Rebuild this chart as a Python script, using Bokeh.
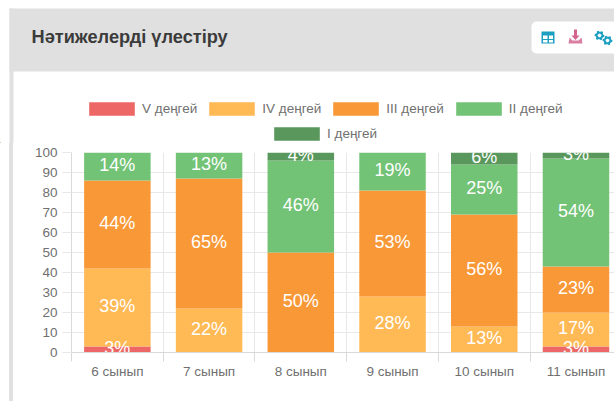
import math
from bokeh.plotting import figure
from bokeh.layouts import column, row
from bokeh.models import (ColumnDataSource, FixedTicker, Legend, LegendItem, BoxAnnotation,
                          PolyAnnotation, Label, Div, Spacer)
from bokeh.core.properties import value
from bokeh.embed import file_html
from bokeh.resources import INLINE

TITLE = "Нәтижелерді үлестіру"
classes = ["6 сынып", "7 сынып", "8 сынып", "9 сынып", "10 сынып", "11 сынып"]
level_names = ["V деңгей", "IV деңгей", "III деңгей", "II деңгей", "I деңгей"]
level_5 = [3, 0, 0, 0, 0, 3]
level_4 = [39, 22, 0, 28, 13, 17]
level_3 = [44, 65, 50, 53, 56, 23]
level_2 = [14, 13, 46, 19, 25, 54]
level_1 = [0, 0, 4, 0, 6, 3]
colors = ["#ec5e5e", "#ffb54a", "#f9922b", "#6abf6f", "#4f9153"]
y_ticks = list(range(0, 101, 10))

levels = [level_5, level_4, level_3, level_2, level_1]
xs = list(range(len(classes)))
keys = ["l5", "l4", "l3", "l2", "l1"]
source = ColumnDataSource(dict(x=xs, **dict(zip(keys, levels))))

W, H = 614, 401
SPLIT = 143          # page y where the header figure ends and the chart figure starts
STRIP_L, STRIP_R = 9, 13
FL, FT, FB = 71, 152, 352  # chart frame on the page

GRID = "#e8e8e8"
AXIS = "#d9d9d9"
TXT = "#707070"
HEADER = "#e0e0e0"
TEAL = "#1c9fc0"
PINK = "#d2648e"

# ---------- chart ----------
p = figure(width=W - STRIP_R, height=H - SPLIT, output_backend="svg", toolbar_location=None,
           x_range=(-0.5, 5.42), y_range=(0, 100), frame_align=False,
           min_border_left=FL - STRIP_R, min_border_right=0, min_border_top=FT - SPLIT, min_border_bottom=H - FB)
p.outline_line_color = None
p.background_fill_color = "white"
p.border_fill_color = "white"

p.xaxis.ticker = FixedTicker(ticks=xs, minor_ticks=[i - 0.5 for i in range(len(classes) + 1)])
p.xaxis.major_label_overrides = {i: c for i, c in zip(xs, classes)}
p.xaxis.major_tick_out = 0
p.xaxis.major_tick_in = 0
p.xaxis.minor_tick_out = 9
p.xaxis.minor_tick_in = 0
p.xaxis.minor_tick_line_color = AXIS
p.xaxis.axis_line_color = AXIS
p.xaxis.major_label_standoff = 2
p.yaxis.ticker = FixedTicker(ticks=y_ticks)
p.yaxis.major_tick_out = 9
p.yaxis.major_tick_in = 0
p.yaxis.major_tick_line_color = GRID
p.yaxis.axis_line_color = AXIS
p.yaxis.major_label_standoff = 5
for ax in (p.xaxis[0], p.yaxis[0]):
    ax.major_label_text_font = "Liberation Sans"
    ax.major_label_text_font_size = "13.5px"
    ax.major_label_text_color = TXT
p.xgrid.ticker = FixedTicker(ticks=[i - 0.5 for i in range(len(classes) + 1)])
p.ygrid.ticker = FixedTicker(ticks=y_ticks)
p.xgrid.grid_line_color = GRID
p.ygrid.grid_line_color = GRID

p.vbar_stack(keys, x="x", width=0.725, source=source, color=colors,
             fill_alpha=0.94, line_color=None)

lx, ly, lt = [], [], []
for i in xs:
    base = 0
    for lv in levels:
        v = lv[i]
        if v > 0:
            lx.append(i)
            ly.append(base + v / 2)
            lt.append(f"{v}%")
        base += v
p.text(x=lx, y=ly, text=lt, text_color="white", text_align="center", text_baseline="middle",
       text_font=value("Liberation Sans"), text_font_size="18px", y_offset=-2)

# ---------- header with title, icons and legend ----------
h = figure(width=W, height=SPLIT, output_backend="svg", toolbar_location=None, frame_align=False,
           x_range=(0, W), y_range=(0, SPLIT), x_axis_location=None, y_axis_location=None,
           min_border_left=0, min_border_right=0, min_border_top=0, min_border_bottom=0)
h.outline_line_color = None
h.grid.visible = False
h.background_fill_color = "white"
h.border_fill_color = "white"

def box(l, r, t, b, c, radius=0, level="annotation"):
    h.add_layout(BoxAnnotation(left=l, right=r, top=SPLIT - t, bottom=SPLIT - b, left_units="screen",
                               right_units="screen", top_units="screen", bottom_units="screen",
                               fill_color=c, fill_alpha=1, line_color=None, border_radius=radius,
                               level=level))

def poly(pts, c):
    h.add_layout(PolyAnnotation(xs=[a for a, _ in pts], ys=[SPLIT - b for _, b in pts], xs_units="screen",
                                ys_units="screen", fill_color=c, fill_alpha=1, line_color=None,
                                level="annotation"))

box(STRIP_L, STRIP_R, 8, SPLIT, HEADER)
box(STRIP_L, W, 8, 71, HEADER)
box(531, 620, 21, 53, "white", 5)

h.add_layout(Label(x=31, y=SPLIT - 36, x_units="screen", y_units="screen", text=TITLE,
                   text_font="Liberation Sans", text_font_size="18.2px", text_font_style="bold",
                   text_color="#3b3b3b", text_baseline="middle", level="annotation"))

box(541, 554, 31, 43, TEAL)
for l, r, t, b in [(542.5, 547, 35, 38.5), (548.5, 552.5, 35, 38.5),
                   (542.5, 547, 39.5, 42), (548.5, 552.5, 39.5, 42)]:
    box(l, r, t, b, "white")

poly([(573.5, 29), (576.5, 29), (576.5, 35), (579, 35), (575, 39.5), (571, 35), (573.5, 35)], PINK)
poly([(569, 37), (572, 40), (578, 40), (581, 37), (582, 43), (568, 43)], "#d97fa2")

def gear(cx, cy, ro, ri, hole, teeth=6):
    pts = []
    for k in range(teeth * 4):
        a = 2 * math.pi * k / (teeth * 4)
        r = ro if k % 4 in (0, 1) else ri
        pts.append((cx + r * math.cos(a), cy + r * math.sin(a)))
    poly(pts, TEAL)
    poly([(cx + hole * math.cos(2 * math.pi * k / 10), cy + hole * math.sin(2 * math.pi * k / 10))
          for k in range(10)], "white")

gear(599, 35, 5, 3.8, 1.8)
gear(607, 40, 5, 3.8, 1.8)

# legend keys: off-range stand-ins that carry the bar colours into the header figure
keys_r = [h.vbar(x=[-50], top=[1], width=1, fill_color=c, fill_alpha=0.94, line_color=None) for c in colors]

def legend_row(idx, x, y):
    leg = Legend(items=[LegendItem(label=level_names[i], renderers=[keys_r[i]]) for i in idx],
                 orientation="horizontal", location=(x, y), glyph_width=57, glyph_height=17,
                 label_standoff=2, spacing=6, padding=0, margin=0, label_height=17,
                 label_text_font="Liberation Sans", label_text_font_size="13.5px",
                 label_text_color=TXT, border_line_color=None, background_fill_alpha=0)
    h.add_layout(leg, "center")

legend_row([0, 1, 2, 3], 83, SPLIT - 116.5)
legend_row([4], 268, SPLIT - 142)

strip = Div(text="", width=STRIP_R - STRIP_L, height=H - SPLIT, margin=0,
            styles={"background-color": HEADER})
lower = row(Spacer(width=STRIP_L, height=H - SPLIT, margin=0), strip, p, spacing=0, margin=0)
layout = column(h, lower, spacing=0, margin=0)
open("out.html", "w").write(file_html(layout, INLINE))
